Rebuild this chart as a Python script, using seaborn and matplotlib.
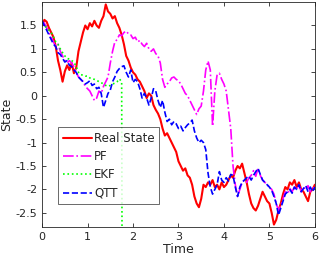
import numpy as np
import pandas as pd
import matplotlib
matplotlib.use("Agg")
import matplotlib.pyplot as plt
import seaborn as sns
from matplotlib.ticker import FuncFormatter

# aeg, samm 0.05
time = np.round(np.arange(0, 6.001, 0.05), 2)

real_state = [1.50, 1.62, 1.58, 1.45, 1.35, 1.25, 1.05, 0.75, 0.55, 0.30,
              0.52, 0.65, 0.55, 0.70, 0.48, 0.60, 0.95, 1.15, 1.35, 1.50,
              1.42, 1.55, 1.48, 1.60, 1.50, 1.45, 1.60, 1.70, 1.95, 1.80,
              1.75, 1.65, 1.70, 1.55, 1.45, 1.30, 1.10, 0.85, 0.75, 0.60,
              0.50, 0.45, 0.35, 0.30, 0.20, 0.10, -0.05, 0.05, 0.00, -0.20,
              -0.30, -0.38, -0.50, -0.70, -0.85, -0.80, -0.90, -1.00, -1.10, -1.20,
              -1.40, -1.50, -1.60, -1.55, -1.70, -1.75, -1.90, -2.15, -2.30, -2.38,
              -2.20, -1.90, -1.95, -1.85, -1.90, -1.80, -1.95, -1.90, -2.00, -1.85,
              -1.95, -1.90, -1.80, -1.70, -1.75, -1.60, -1.50, -1.55, -1.45, -1.65,
              -1.85, -2.10, -2.30, -2.40, -2.45, -2.35, -2.20, -2.05, -2.15, -2.25,
              -2.30, -2.50, -2.75, -2.65, -2.45, -2.30, -2.10, -1.95, -2.00, -1.85,
              -1.90, -1.80, -1.95, -1.85, -2.00, -2.05, -2.15, -2.25, -2.05, -2.00,
              -1.90]

pf = [1.55, 1.55, 1.45, 1.35, 1.25, 1.15, 1.05, 1.10, 0.95, 0.85,
      0.75, 0.70, 0.75, 0.70, 0.62, 0.50, 0.40, 0.35, 0.30, 0.20,
      0.15, 0.10, 0.00, -0.10, -0.05, 0.10, 0.05, 0.20, 0.30, 0.40,
      0.70, 0.95, 1.15, 1.20, 1.30, 1.28, 1.35, 1.38, 1.32, 1.30,
      1.22, 1.25, 1.15, 1.18, 1.10, 1.05, 1.12, 1.00, 0.95, 1.00,
      0.90, 0.85, 0.70, 0.35, 0.18, 0.25, 0.30, 0.38, 0.40, 0.35,
      0.32, 0.25, 0.15, 0.05, 0.00, -0.10, -0.20, -0.30, -0.40, -0.28,
      -0.22, 0.10, 0.55, 0.74, 0.55, -0.65, 0.10, 0.45, 0.48, 0.35,
      0.25, 0.10, -0.30, -0.70, -1.50, -1.90, -2.15, -2.00, -1.85, -1.80,
      -1.85, -1.75, -1.70, -1.60, -1.72, -1.55, -1.70, -1.80, -1.85, -1.90,
      -1.95, -2.00, -2.10, -2.30, -2.45, -2.35, -2.20, -2.05, -2.10, -1.98,
      -2.05, -1.95, -2.00, -1.90, -2.05, -1.95, -2.00, -1.92, -2.05, -1.98,
      -1.95]

# EKF hajub pärast t=1.8 (läheb graafikust välja)
ekf = [1.55, 1.50, 1.45, 1.40, 1.35, 1.25, 1.15, 1.10, 1.00, 0.92,
       0.85, 0.80, 0.78, 0.75, 0.72, 0.62, 0.50, 0.45, 0.44, 0.42,
       0.42, 0.38, 0.36, 0.35, 0.33, 0.30, 0.28, 0.25, 0.22, 0.20,
       0.22, 0.25, 0.27, 0.30, 0.36, 0.30, -20.0]

qtt = [1.60, 1.50, 1.40, 1.30, 1.20, 1.10, 1.05, 0.92, 0.88, 0.80,
       0.72, 0.75, 0.65, 0.62, 0.55, 0.50, 0.40, 0.35, 0.30, 0.25,
       0.28, 0.32, 0.22, 0.25, 0.15, 0.18, 0.05, -0.25, -0.10, 0.05,
       0.12, 0.30, 0.40, 0.52, 0.58, 0.62, 0.64, 0.50, 0.40, 0.55,
       0.28, 0.35, 0.30, 0.15, -0.05, 0.05, -0.05, -0.20, -0.05, 0.15,
       0.10, -0.10, -0.25, -0.10, -0.35, -0.55, -0.50, -0.62, -0.55, -0.60,
       -0.70, -0.65, -0.75, -0.68, -0.62, -0.58, -0.52, -0.75, -0.90, -1.00,
       -0.95, -1.00, -1.15, -1.65, -1.95, -2.10, -2.00, -1.90, -1.62, -1.80,
       -1.85, -1.75, -1.82, -1.68, -1.70, -1.95, -2.15, -1.95, -1.85, -1.80,
       -1.75, -1.72, -1.80, -1.70, -1.62, -1.55, -1.68, -1.80, -1.85, -1.90,
       -1.95, -2.02, -2.15, -2.30, -2.55, -2.40, -2.25, -2.10, -2.05, -2.00,
       -2.08, -1.95, -2.00, -1.90, -2.05, -1.98, -1.92, -2.05, -1.95, -2.05,
       -1.95]

x_ticks = [0, 1, 2, 3, 4, 5, 6]
y_ticks = [-2.5, -2, -1.5, -1, -0.5, 0, 0.5, 1, 1.5]

sns.set_style("ticks")
plt.rcParams["font.family"] = ["DejaVu Sans"]
plt.rcParams["axes.unicode_minus"] = False

fig = plt.figure(figsize=(3.19, 2.59), dpi=100)
ax = fig.add_axes([0.132, 0.124, 0.855, 0.868])

sns.lineplot(x=time, y=real_state, ax=ax, color=(1, 0, 0), linewidth=1.5, label="Real State")
sns.lineplot(x=time, y=pf, ax=ax, color=(1, 0, 1), linewidth=1.2, linestyle="-.", label="PF")
sns.lineplot(x=time[:len(ekf)], y=ekf, ax=ax, color=(0, 1, 0), linewidth=1.2, linestyle=":", label="EKF")
sns.lineplot(x=time, y=qtt, ax=ax, color=(0, 0, 1), linewidth=1.2, linestyle="--", label="QTT")

ax.set_xlim(0, 6)
ax.set_ylim(-2.8, 2.0)
ax.set_xticks(x_ticks)
ax.set_yticks(y_ticks)
ax.yaxis.set_major_formatter(FuncFormatter(lambda v, p: "%g" % v))
ax.tick_params(direction="in", top=True, right=True, length=3, width=0.6,
               labelsize=8, colors="0.15")
for s in ax.spines.values():
    s.set_linewidth(0.6)
    s.set_color("0.15")
ax.set_xlabel("Time", fontsize=9, labelpad=1)
ax.set_ylabel("State", fontsize=9, labelpad=2)

leg = ax.legend(loc="lower left", bbox_to_anchor=(0.06, 0.10), fontsize=8.5,
                frameon=True, fancybox=False, handlelength=2.4, handletextpad=0.2,
                labelspacing=0.45, borderpad=0.4, borderaxespad=0)
leg.get_frame().set_edgecolor("0.15")
leg.get_frame().set_linewidth(0.6)

fig.savefig("out.png", dpi=100)
